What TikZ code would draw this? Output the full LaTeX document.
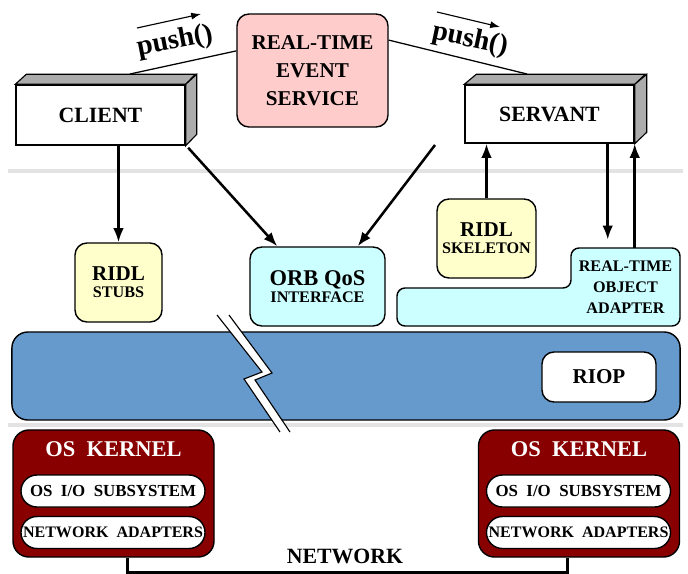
\documentclass[tikz,border=0pt]{standalone}
\usepackage{fontspec}
\setmainfont{Liberation Serif}
\usetikzlibrary{arrows.meta}

\definecolor{evpink}{HTML}{FFCCCC}
\definecolor{ridlyel}{HTML}{FFFFCC}
\definecolor{qoscyan}{HTML}{CCFFFF}
\definecolor{orbblue}{HTML}{6699CC}
\definecolor{osred}{HTML}{880000}

\newcommand{\txtsz}[2]{\fontsize{#1}{#2}\selectfont}

\begin{document}
\begin{tikzpicture}[x=0.025cm, y=-0.025cm,
	every node/.style={font=\bfseries, align=center, inner sep=0pt},
	arr/.style={-{Latex[length=10pt,width=7.5pt]}, line width=1.8pt},
	front/.style={draw, fill=white, line width=1pt},
	side/.style={draw, fill=gray!65, line width=0.8pt},
	ridlbox/.style={draw, fill=ridlyel, rounded corners=0.3cm, line width=1pt},
	qosbox/.style={draw, fill=qoscyan, rounded corners=0.3cm, line width=1pt},
	kernel/.style={draw, fill=osred, rounded corners=0.4cm, line width=1pt, minimum width=5.025cm, minimum height=3.175cm},
	pill/.style={draw, fill=white, rounded corners=0.4cm, line width=1pt, minimum width=4.6cm, minimum height=0.8cm}]

	\useasboundingbox (0,0) rectangle (688,573);

	% Draw the light separators
	\draw[line width=3pt, gray!22] (8,171) -- (683,171);
	\draw[line width=3pt, gray!22] (8,425) -- (683,425);

	% Client and servant boxes
	\node[front, minimum width=4.225cm, minimum height=1.5cm, font=\bfseries\txtsz{15.5}{18}] (client) at (100.5,115) {CLIENT};
	\filldraw[side] (client.north west) -- ++(11,-10) -- ++(169,0) -- (client.north east) -- cycle;
	\filldraw[side] (client.north east) -- ++(11,-10) -- ++(0,60) -- (client.south east) -- cycle;

	\node[front, minimum width=4.225cm, minimum height=1.45cm, font=\bfseries\txtsz{15.5}{18}] (servant) at (549.5,114) {SERVANT};
	\filldraw[side] (servant.north west) -- ++(12,-10) -- ++(169,0) -- (servant.north east) -- cycle;
	\filldraw[side] (servant.north east) -- ++(12,-10) -- ++(0,58) -- (servant.south east) -- cycle;

	% Event service and push() calls
	\node[draw, fill=evpink, rounded corners=0.3cm, line width=1pt, minimum width=3.775cm, minimum height=2.825cm, font=\bfseries\txtsz{15}{20}] (rtes) at (312.5,70.5) {REAL-TIME\\EVENT\\SERVICE};
	\coordinate (cpush) at (130,74);
	\coordinate (spush) at (527,74);
	\draw[line width=0.9pt] (cpush) -- ([yshift=0.49cm]rtes.west);
	\draw[line width=0.9pt] (spush) -- ([yshift=0.76cm]rtes.east);
	\draw[-{Latex[length=7pt,width=5pt]}, line width=0.8pt] (137,28) -- (201,14);
	\node[rotate=11, font=\bfseries\txtsz{20}{24}] (pushl) at (175,42) {push()};
	\draw[-{Latex[length=7pt,width=5pt]}, line width=0.8pt] (437,12) -- (500,27);
	\node[rotate=-12, font=\bfseries\txtsz{20}{24}] (pushr) at (470,40) {push()};

	% Stubs, QoS interface, skeleton
	\node[ridlbox, minimum width=2.175cm, minimum height=1.975cm] (stubs) at (118.5,282.5) {\txtsz{15}{18}RIDL\\\txtsz{11.5}{14}STUBS};
	\node[qosbox, minimum width=3.375cm, minimum height=1.975cm] (orbqos) at (317.5,286.5) {\txtsz{16}{18}ORB QoS\\\txtsz{11.5}{14}INTERFACE};
	\node[ridlbox, minimum width=2.475cm, minimum height=1.975cm] (skel) at (486.5,238.5) {\txtsz{15}{18}RIDL\\\txtsz{11.5}{14}SKELETON};

	% Object adapter (L shape)
	\filldraw[fill=qoscyan, rounded corners=0.2cm, line width=1pt] (397,288) -- (571,288) -- (571,248) -- (680,248) -- (680,326) -- (397,326) -- cycle;
	\node[minimum width=2.725cm, minimum height=1.95cm, font=\bfseries\txtsz{11.5}{15}] (rtoa) at (625.5,287) {REAL-TIME\\OBJECT\\ADAPTER};

	% Arrows between the layers
	\draw[arr] (stubs.north |- client.south) -- (stubs.north);
	\draw[arr] ([shift={(0.06cm,-0.05cm)}]client.south east) -- ([xshift=0.7cm]orbqos.north west);
	\coordinate (evq) at (435,145);
	\draw[arr] (evq) -- ([xshift=-0.7cm]orbqos.north east);
	\draw[arr] (skel.north) -- (skel.north |- servant.south);
	\coordinate (sdown) at ([xshift=-0.675cm]servant.south east);
	\draw[arr, shorten >=0.2cm] (sdown) -- (sdown |- rtoa.north);
	\draw[arr] (rtoa.north -| servant.south east) -- (servant.south east);

	% ORB core band
	\node[draw, fill=orbblue, rounded corners=0.4cm, line width=1pt, minimum width=16.7cm, minimum height=2.2cm] (orb) at (346,376) {};
	\node[draw, fill=white, rounded corners=0.3cm, line width=1pt, minimum width=2.85cm, minimum height=1.25cm, font=\bfseries\txtsz{15}{18}] (riop) at (599,377) {RIOP};

	% Break in the band
	\fill[white] (217,315) -- (262,372) -- (244,379) -- (280,432) -- (290,432) -- (255,380) -- (272,373) -- (229,315) -- cycle;
	\draw[line width=0.8pt] (217,315) -- (262,372) -- (244,379) -- (280,432);
	\draw[line width=0.8pt] (229,315) -- (272,373) -- (255,380) -- (290,432);

	% OS kernels
	\node[kernel] (kerL) at (113.5,493.5) {};
	\node[text=white, font=\bfseries\txtsz{16}{18}] (osL) at (113.5,449) {OS\ \ KERNEL};
	\node[pill, font=\bfseries\txtsz{12}{13}] (ioL) at (113,491) {OS\ \ I/O\ \ SUBSYSTEM};
	\node[pill, font=\bfseries\txtsz{11.4}{13}] (naL) at (113,532.5) {NETWORK\ \ ADAPTERS};

	\node[kernel] (kerR) at (579,493.5) {};
	\node[text=white, font=\bfseries\txtsz{16}{18}] (osR) at (579,449) {OS\ \ KERNEL};
	\node[pill, font=\bfseries\txtsz{12}{13}] (ioR) at (578.5,491) {OS\ \ I/O\ \ SUBSYSTEM};
	\node[pill, font=\bfseries\txtsz{11.4}{13}] (naR) at (578.5,532.5) {NETWORK\ \ ADAPTERS};

	% Network between the two kernels
	\draw[line width=2.2pt] ([xshift=0.34cm]kerL.south) -- ++(0,15) -| ([xshift=-0.28cm]kerR.south);
	\node[font=\bfseries\txtsz{15.5}{18}] (net) at (345,556) {NETWORK};
\end{tikzpicture}
\end{document}
